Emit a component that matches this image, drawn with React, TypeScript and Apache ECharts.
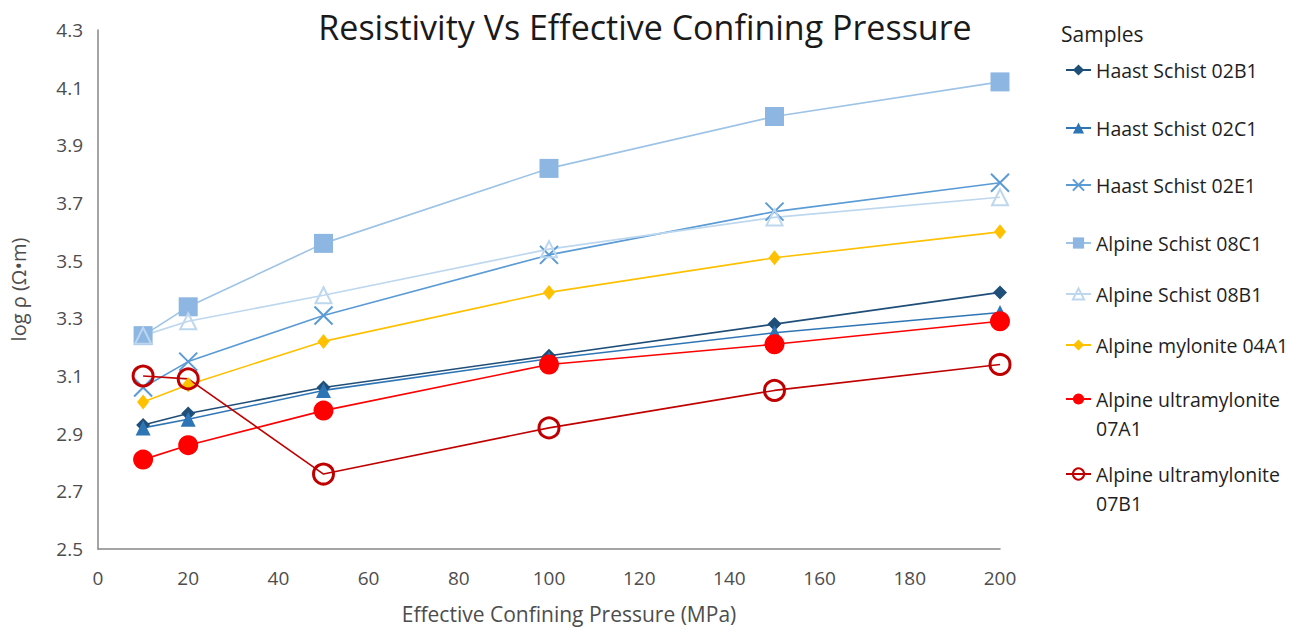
import React, { useEffect, useRef } from 'react';
import * as echarts from 'echarts';

const pressures = [10, 20, 50, 100, 150, 200];
const seriesNames = [
  'Haast Schist 02B1',
  'Haast Schist 02C1',
  'Haast Schist 02E1',
  'Alpine Schist 08C1',
  'Alpine Schist 08B1',
  'Alpine mylonite 04A1',
  'Alpine ultramylonite 07A1',
  'Alpine ultramylonite 07B1',
];
const haast02B1 = [2.93, 2.97, 3.06, 3.17, 3.28, 3.39];
const haast02C1 = [2.92, 2.95, 3.05, 3.16, 3.25, 3.32];
const haast02E1 = [3.06, 3.15, 3.31, 3.52, 3.67, 3.77];
const alpine08C1 = [3.24, 3.34, 3.56, 3.82, 4.0, 4.12];
const alpine08B1 = [3.24, 3.29, 3.38, 3.54, 3.65, 3.72];
const mylonite04A1 = [3.01, 3.07, 3.22, 3.39, 3.51, 3.6];
const ultra07A1 = [2.81, 2.86, 2.98, 3.14, 3.21, 3.29];
const ultra07B1 = [3.1, 3.09, 2.76, 2.92, 3.05, 3.14];
const seriesValues = [haast02B1, haast02C1, haast02E1, alpine08C1, alpine08B1, mylonite04A1, ultra07A1, ultra07B1];

const FONT = 'Open Sans';
const X_PATH = 'path://M0,0L20,20M20,0L0,20';

type Style = {
  color: string;
  symbol: string;
  size: number | number[];
  fill: string;
  border?: number;
};
const styles: Style[] = [
  { color: '#1F4E79', symbol: 'diamond', size: 14, fill: '#1F4E79' },
  { color: '#2E75B6', symbol: 'triangle', size: 15, fill: '#2E75B6' },
  { color: '#5B9BD5', symbol: X_PATH, size: 18, fill: 'rgba(0,0,0,0)', border: 2 },
  { color: '#9DC3E6', symbol: 'rect', size: 19, fill: '#8DB6E2' },
  { color: '#BDD7EE', symbol: 'triangle', size: 16, fill: 'rgba(255,255,255,0)', border: 2 },
  { color: '#FFC000', symbol: 'diamond', size: [12, 15], fill: '#FFC000' },
  { color: '#FF0000', symbol: 'circle', size: 20, fill: '#FF0000' },
  { color: '#C00000', symbol: 'circle', size: 20, fill: 'rgba(255,255,255,0)', border: 3 },
];

const legendCenters = [70, 128, 185, 243, 294, 345, 399, 474];

export default function App() {
  const ref = useRef<HTMLDivElement>(null);
  useEffect(() => {
    if (!ref.current) return;
    const chart = echarts.init(ref.current, null, { renderer: 'svg' });

    const series = seriesNames.map((name, i) => {
      const s = styles[i];
      return {
        name,
        type: 'line',
        data: pressures.map((p, j) => [p, seriesValues[i][j]]),
        symbol: s.symbol,
        symbolSize: s.size,
        showAllSymbol: true,
        lineStyle: { color: s.color, width: 1.6 },
        itemStyle: {
          color: s.fill,
          borderColor: s.color,
          borderWidth: s.border ?? 0,
        },
        emphasis: { disabled: true },
      };
    });

    const LH = 29;
    const legends = seriesNames.map((name, i) => {
      const twoLine = name.startsWith('Alpine ultramylonite');
      return {
        data: [{ name }],
        left: 1065,
        top: twoLine ? legendCenters[i] - LH * 1.5 : legendCenters[i] - 12,
        padding: 0,
        itemWidth: 25,
        itemHeight: 14,
        selectedMode: false,
        formatter: (n: string) =>
          n.startsWith('Alpine ultramylonite') ? ' \n' + n.replace('Alpine ultramylonite ', 'Alpine ultramylonite\n') : n,
        textStyle: { fontFamily: FONT, fontSize: 19.5, color: '#1f1f1f', lineHeight: twoLine ? LH : 24 },
      };
    });

    chart.setOption({
      animation: false,
      backgroundColor: '#ffffff',
      title: [
        {
          text: 'Resistivity Vs Effective Confining Pressure',
          left: 640,
          textAlign: 'center',
          top: 5,
          textStyle: { fontFamily: FONT, fontSize: 34, fontWeight: 'normal', color: '#1a1a1a' },
        },
        {
          text: 'Samples',
          left: 1056,
          top: 18,
          textStyle: { fontFamily: FONT, fontSize: 21, fontWeight: 'normal', color: '#1f1f1f' },
        },
      ],
      legend: legends,
      grid: { left: 97, right: 314, top: 30, bottom: 80, containLabel: false },
      xAxis: {
        type: 'value',
        min: 0,
        max: 200,
        interval: 20,
        name: 'Effective Confining Pressure (MPa)',
        nameLocation: 'middle',
        nameGap: 54,
        nameTextStyle: { fontFamily: FONT, fontSize: 21, color: '#4d4d4d', padding: [0, 0, 0, 40] },
        axisLine: { show: true, lineStyle: { color: '#868686', width: 1.5 } },
        axisTick: { show: false },
        splitLine: { show: false },
        axisLabel: { fontFamily: FONT, fontSize: 19, color: '#4d4d4d', margin: 19 },
      },
      yAxis: {
        type: 'value',
        min: 2.5,
        max: 4.3,
        interval: 0.2,
        name: 'log ρ (Ω•m)',
        nameLocation: 'middle',
        nameGap: 70,
        nameTextStyle: { fontFamily: FONT, fontSize: 20, color: '#4d4d4d' },
        axisLine: { show: true, lineStyle: { color: '#868686', width: 1.5 } },
        axisTick: { show: false },
        splitLine: { show: false },
        axisLabel: {
          fontFamily: FONT,
          fontSize: 19,
          color: '#4d4d4d',
          margin: 15,
          formatter: (v: number) => v.toFixed(1),
        },
      },
      series,
    });
    return () => chart.dispose();
  }, []);
  return <div ref={ref} style={{ width: 1314, height: 629, position: 'absolute', left: 0, top: 0 }} />;
}
